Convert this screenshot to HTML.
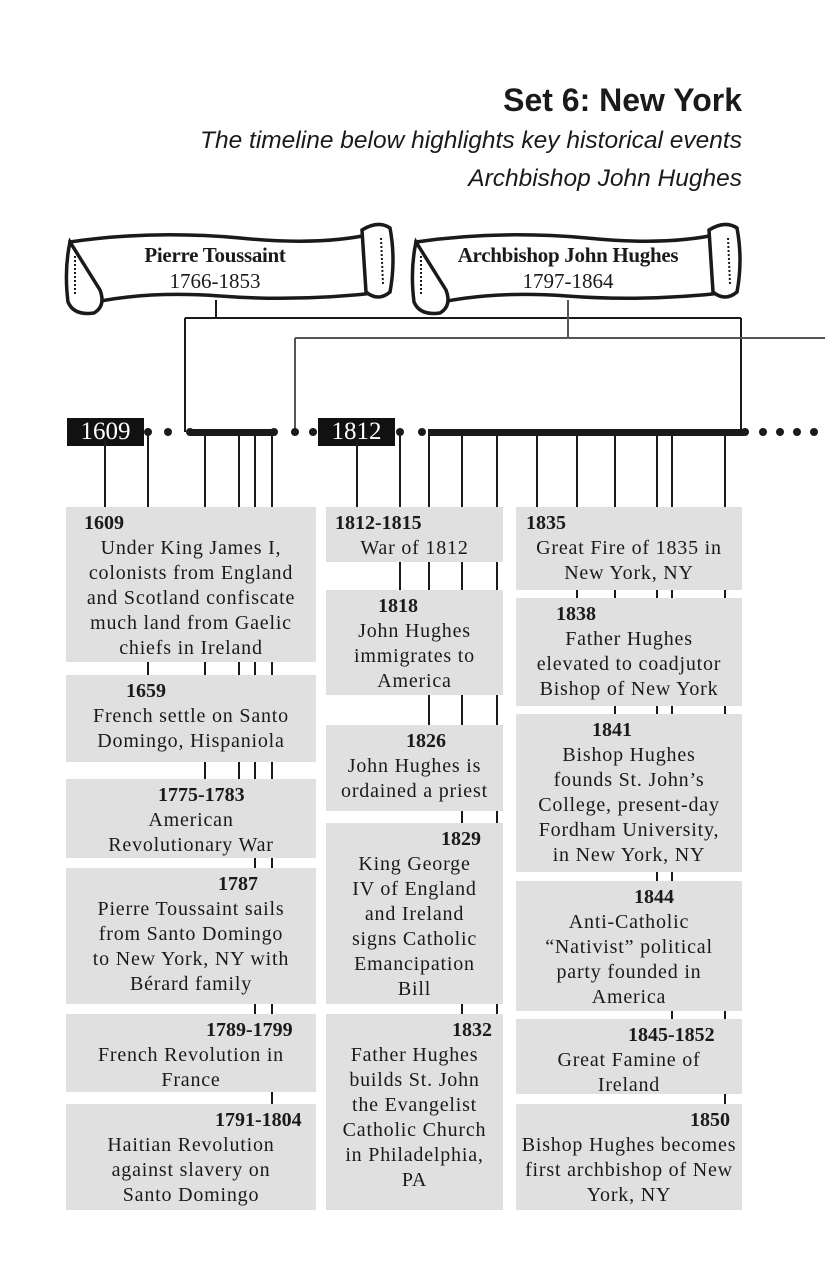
<!DOCTYPE html>
<html><head><meta charset="utf-8"><style>
body{margin:0;width:825px;height:1275px;background:#fff;position:relative;overflow:hidden;font-family:"Liberation Serif",serif;color:#1a1a1a}
.t{position:absolute;right:83px;font-family:"Liberation Sans",sans-serif;white-space:nowrap}
.b{position:absolute;background:#e0e0e1;font-size:20px;line-height:25px;text-align:center;letter-spacing:0.8px;white-space:nowrap}
.b .y{position:absolute;top:4px;font-weight:bold;letter-spacing:0}
.b .x{position:absolute;left:-10px;right:-10px;top:29px}
.v{position:absolute;width:2px;background:#1a1a1a}
.h{position:absolute;height:2px;background:#1a1a1a}
.d{position:absolute;width:8px;height:8px;border-radius:50%;background:#1a1a1a;top:428px}
.lab{position:absolute;background:#111;color:#fff;font-size:25px;text-align:center;line-height:28px;top:418px;height:28px}
.bt{position:absolute;text-align:center;font-size:21px;line-height:25px;white-space:nowrap}
</style></head><body>
<div class="t" style="top:82px;font-size:32px;font-weight:bold">Set 6: New York</div>
<div class="t" style="top:127px;font-size:24.5px;font-style:italic">The timeline below highlights key historical events</div>
<div class="t" style="top:165px;font-size:24.5px;font-style:italic">Archbishop John Hughes</div>

<svg width="825" height="440" style="position:absolute;left:0;top:0">
<g fill="#fff" stroke="#1a1a1a" stroke-width="3.5">
<path d="M70 242 Q150 230 240 238 Q320 246 372 234 L384 292 Q300 302 220 296 Q140 290 78 306 Z"/>
<path d="M70 242 Q64 270 68 302 Q74 316 94 313 Q106 306 100 290 Z"/>
<path d="M362 230 Q378 220 390 228 Q396 260 390 292 Q378 302 366 292 Z"/>
<path d="M416 242 Q497 230 587 238 Q667 246 719 234 L731 292 Q647 302 567 296 Q487 290 424 306 Z"/>
<path d="M416 242 Q410 270 414 302 Q420 316 440 313 Q452 306 446 290 Z"/>
<path d="M709 230 Q725 220 737 228 Q743 260 737 292 Q725 302 713 292 Z"/>
</g>
<g stroke="#1a1a1a" stroke-width="2" fill="none" stroke-dasharray="2 2">
<path d="M75 256 L75 296"/><path d="M381 238 L383 284"/>
<path d="M421 256 L421 296"/><path d="M728 238 L730 284"/>
</g>
<line x1="216" y1="300" x2="216" y2="318" stroke="#1a1a1a" stroke-width="2"/>
<line x1="185" y1="318" x2="741" y2="318" stroke="#1a1a1a" stroke-width="2"/>
<line x1="185" y1="318" x2="185" y2="432" stroke="#1a1a1a" stroke-width="2"/>
<line x1="741" y1="318" x2="741" y2="432" stroke="#1a1a1a" stroke-width="2"/>
<line x1="568" y1="300" x2="568" y2="338" stroke="#555" stroke-width="2"/>
<line x1="295" y1="338" x2="825" y2="338" stroke="#555" stroke-width="2"/>
<line x1="295" y1="338" x2="295" y2="432" stroke="#555" stroke-width="2"/>
</svg>
<div class="bt" style="left:65px;width:300px;top:243px;font-weight:bold;letter-spacing:-0.3px">Pierre Toussaint</div>
<div class="bt" style="left:65px;width:300px;top:269px">1766-1853</div>
<div class="bt" style="left:418px;width:300px;top:243px;font-weight:bold;letter-spacing:-0.3px">Archbishop John Hughes</div>
<div class="bt" style="left:418px;width:300px;top:269px">1797-1864</div>

<div class="h" style="left:190px;width:84px;top:429px;height:7px"></div>
<div class="h" style="left:428px;width:316px;top:429px;height:7px"></div>
<div class="d" style="left:144px"></div><div class="d" style="left:164px"></div><div class="d" style="left:186px"></div>
<div class="d" style="left:270px"></div><div class="d" style="left:291px"></div><div class="d" style="left:309px"></div>
<div class="d" style="left:396px"></div><div class="d" style="left:418px"></div>
<div class="d" style="left:741px"></div><div class="d" style="left:759px"></div><div class="d" style="left:776px"></div><div class="d" style="left:793px"></div><div class="d" style="left:810px"></div>
<div class="lab" style="left:67px;width:77px">1609</div>
<div class="lab" style="left:318px;width:77px">1812</div>

<div class="v" style="left:104px;top:440px;height:67px"></div>
<div class="v" style="left:147px;top:432px;height:75px"></div>
<div class="v" style="left:204px;top:432px;height:75px"></div>
<div class="v" style="left:238px;top:432px;height:75px"></div>
<div class="v" style="left:254px;top:432px;height:75px"></div>
<div class="v" style="left:271px;top:432px;height:75px"></div>
<div class="v" style="left:356px;top:440px;height:67px"></div>
<div class="v" style="left:399px;top:432px;height:75px"></div>
<div class="v" style="left:428px;top:432px;height:75px"></div>
<div class="v" style="left:461px;top:432px;height:75px"></div>
<div class="v" style="left:496px;top:432px;height:75px"></div>
<div class="v" style="left:536px;top:432px;height:75px"></div>
<div class="v" style="left:576px;top:432px;height:75px"></div>
<div class="v" style="left:614px;top:432px;height:75px"></div>
<div class="v" style="left:656px;top:432px;height:75px"></div>
<div class="v" style="left:671px;top:432px;height:75px"></div>
<div class="v" style="left:724px;top:432px;height:75px"></div>
<div class="v" style="left:147px;top:662px;height:13px"></div><div class="v" style="left:204px;top:662px;height:13px"></div><div class="v" style="left:238px;top:662px;height:13px"></div><div class="v" style="left:254px;top:662px;height:13px"></div><div class="v" style="left:271px;top:662px;height:13px"></div>
<div class="v" style="left:204px;top:762px;height:17px"></div><div class="v" style="left:238px;top:762px;height:17px"></div><div class="v" style="left:254px;top:762px;height:17px"></div><div class="v" style="left:271px;top:762px;height:17px"></div>
<div class="v" style="left:254px;top:858px;height:10px"></div><div class="v" style="left:271px;top:858px;height:10px"></div>
<div class="v" style="left:254px;top:1004px;height:10px"></div><div class="v" style="left:271px;top:1004px;height:10px"></div>
<div class="v" style="left:271px;top:1092px;height:12px"></div>
<div class="v" style="left:399px;top:562px;height:28px"></div><div class="v" style="left:428px;top:562px;height:28px"></div><div class="v" style="left:461px;top:562px;height:28px"></div><div class="v" style="left:496px;top:562px;height:28px"></div>
<div class="v" style="left:428px;top:695px;height:30px"></div><div class="v" style="left:461px;top:695px;height:30px"></div><div class="v" style="left:496px;top:695px;height:30px"></div>
<div class="v" style="left:461px;top:811px;height:12px"></div><div class="v" style="left:496px;top:811px;height:12px"></div>
<div class="v" style="left:461px;top:1004px;height:10px"></div><div class="v" style="left:496px;top:1004px;height:10px"></div>
<div class="v" style="left:576px;top:590px;height:8px"></div><div class="v" style="left:614px;top:590px;height:8px"></div><div class="v" style="left:656px;top:590px;height:8px"></div><div class="v" style="left:671px;top:590px;height:8px"></div><div class="v" style="left:724px;top:590px;height:8px"></div>
<div class="v" style="left:614px;top:706px;height:8px"></div><div class="v" style="left:656px;top:706px;height:8px"></div><div class="v" style="left:671px;top:706px;height:8px"></div><div class="v" style="left:724px;top:706px;height:8px"></div>
<div class="v" style="left:656px;top:872px;height:9px"></div><div class="v" style="left:671px;top:872px;height:9px"></div>
<div class="v" style="left:671px;top:1011px;height:8px"></div><div class="v" style="left:724px;top:1011px;height:8px"></div>
<div class="v" style="left:724px;top:1094px;height:10px"></div>

<div class="b" style="left:66px;top:507px;width:250px;height:155px"><div class="y" style="left:18px">1609</div><div class="x">Under King James I,<br>colonists from England<br>and Scotland confiscate<br>much land from Gaelic<br>chiefs in Ireland</div></div>
<div class="b" style="left:66px;top:675px;width:250px;height:87px"><div class="y" style="left:60px">1659</div><div class="x">French settle on Santo<br>Domingo, Hispaniola</div></div>
<div class="b" style="left:66px;top:779px;width:250px;height:79px"><div class="y" style="left:92px">1775-1783</div><div class="x">American<br>Revolutionary War</div></div>
<div class="b" style="left:66px;top:868px;width:250px;height:136px"><div class="y" style="left:152px">1787</div><div class="x">Pierre Toussaint sails<br>from Santo Domingo<br>to New York, NY with<br>Bérard family</div></div>
<div class="b" style="left:66px;top:1014px;width:250px;height:78px"><div class="y" style="left:140px">1789-1799</div><div class="x">French Revolution in<br>France</div></div>
<div class="b" style="left:66px;top:1104px;width:250px;height:106px"><div class="y" style="left:149px">1791-1804</div><div class="x">Haitian Revolution<br>against slavery on<br>Santo Domingo</div></div>
<div class="b" style="left:326px;top:507px;width:177px;height:55px"><div class="y" style="left:9px">1812-1815</div><div class="x">War of 1812</div></div>
<div class="b" style="left:326px;top:590px;width:177px;height:105px"><div class="y" style="left:52px">1818</div><div class="x">John Hughes<br>immigrates to<br>America</div></div>
<div class="b" style="left:326px;top:725px;width:177px;height:86px"><div class="y" style="left:80px">1826</div><div class="x">John Hughes is<br>ordained a priest</div></div>
<div class="b" style="left:326px;top:823px;width:177px;height:181px"><div class="y" style="left:115px">1829</div><div class="x">King George<br>IV of England<br>and Ireland<br>signs Catholic<br>Emancipation<br>Bill</div></div>
<div class="b" style="left:326px;top:1014px;width:177px;height:196px"><div class="y" style="left:126px">1832</div><div class="x">Father Hughes<br>builds St. John<br>the Evangelist<br>Catholic Church<br>in Philadelphia,<br>PA</div></div>
<div class="b" style="left:516px;top:507px;width:226px;height:83px"><div class="y" style="left:10px">1835</div><div class="x">Great Fire of 1835 in<br>New York, NY</div></div>
<div class="b" style="left:516px;top:598px;width:226px;height:108px"><div class="y" style="left:40px">1838</div><div class="x">Father Hughes<br>elevated to coadjutor<br>Bishop of New York</div></div>
<div class="b" style="left:516px;top:714px;width:226px;height:158px"><div class="y" style="left:76px">1841</div><div class="x">Bishop Hughes<br>founds St. John’s<br>College, present-day<br>Fordham University,<br>in New York, NY</div></div>
<div class="b" style="left:516px;top:881px;width:226px;height:130px"><div class="y" style="left:118px">1844</div><div class="x">Anti-Catholic<br>“Nativist” political<br>party founded in<br>America</div></div>
<div class="b" style="left:516px;top:1019px;width:226px;height:75px"><div class="y" style="left:112px">1845-1852</div><div class="x">Great Famine of<br>Ireland</div></div>
<div class="b" style="left:516px;top:1104px;width:226px;height:106px"><div class="y" style="left:174px">1850</div><div class="x">Bishop Hughes becomes<br>first archbishop of New<br>York, NY</div></div>
</body></html>
